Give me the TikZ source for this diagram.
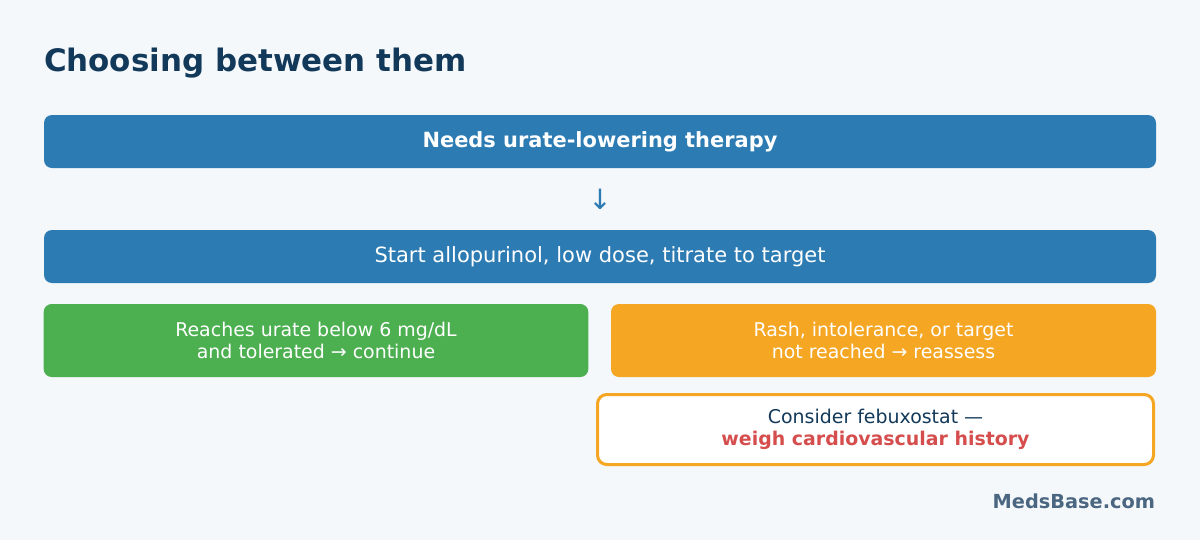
\documentclass[tikz,border=0pt]{standalone}
\usepackage{fontspec}
\setmainfont{DejaVu Sans}
\definecolor{pagebg}{HTML}{F4F8FB}
\definecolor{navy}{HTML}{12395A}
\definecolor{stepblue}{HTML}{2C7BB3}
\definecolor{okgreen}{HTML}{4CAF50}
\definecolor{warnorange}{HTML}{F5A623}
\definecolor{alertred}{HTML}{D64D4D}
\definecolor{markgray}{HTML}{4A6680}
\begin{document}
\begin{tikzpicture}[x=0.75pt, y=-0.75pt, every node/.style={outer sep=0pt, inner sep=0pt, align=center},
        stepbox/.style={rounded corners=6pt, minimum width=834pt, minimum height=39.75pt, fill=stepblue, text=white},
        halfbox/.style={rounded corners=6pt, minimum width=408.5pt, minimum height=54.75pt, text=white, font=\fontsize{14.2}{16.5}\selectfont},
        notebox/.style={rounded corners=7pt, draw=warnorange, line width=2.25pt, fill=white, minimum width=417pt, minimum height=52.5pt, text=navy, font=\fontsize{14.2}{16.5}\selectfont}]
        \fill[pagebg] (0, 0) rectangle (1200, 540);
        \useasboundingbox (0, 0) rectangle (1200, 540);
        \node[anchor=west, text=navy, font=\fontsize{23.2}{28}\selectfont\bfseries] (title) at (44, 63) {Choosing between them};
        \node[stepbox, font=\fontsize{15.7}{18}\selectfont\bfseries] (needs) at (600, 141.5) {Needs urate-lowering therapy};
        \node[text=stepblue, font=\fontsize{21}{24}\selectfont] (down) at (600, 199) {↓};
        \node[stepbox, font=\fontsize{15.75}{18}\selectfont] (start) at (600, 256.5) {Start allopurinol, low dose, titrate to target};
        \node[halfbox, fill=okgreen] (cont) at (316, 340.5) {Reaches urate below 6 mg/dL\\and tolerated → continue};
        \node[halfbox, fill=warnorange, minimum width=408.75pt] (reassess) at (883.5, 340.5) {Rash, intolerance, or target\\not reached → reassess};
        \node[notebox] (febux) at (875.5, 429.5) {Consider febuxostat —\\\textcolor{alertred}{\bfseries weigh cardiovascular history}};
        \node[anchor=east, text=markgray, font=\fontsize{14.5}{17}\selectfont\bfseries] (mark) at (1155, 501) {MedsBase.com};
    \end{tikzpicture}
\end{document}
